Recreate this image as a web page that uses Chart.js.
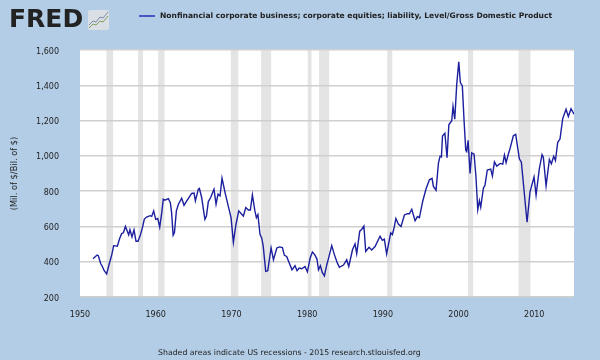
<!DOCTYPE html>
<html>
<head>
<meta charset="utf-8">
<script src="https://cdn.jsdelivr.net/npm/chart.js@4"></script>
<style>
  html, body { margin: 0; padding: 0; background: #b3cde6; }
  #wrap { position: relative; width: 600px; height: 360px; overflow: hidden; font-family: "DejaVu Sans", sans-serif; color: #222; }
  #gdpChart { position: absolute; left: 0; top: 0; }
  .txt { position: absolute; white-space: nowrap; }
  #logo { left: 9px; top: 4px; font-size: 25px; font-weight: bold; line-height: 30px; color: #222; }
  #icon { position: absolute; left: 88px; top: 10px; }
  #swatch { position: absolute; left: 139px; top: 15px; width: 16px; height: 2px; background: #4656bd; }
  #legend { left: 160px; top: 10px; font-size: 7.57px; font-weight: bold; line-height: 12px; }
  #footer { left: 158px; top: 347px; font-size: 7.8px; line-height: 12px; }
</style>
</head>
<body>
<div id="wrap">
  <canvas id="gdpChart" width="600" height="360"></canvas>
  <div class="txt" id="logo">FRED</div>
  <svg id="icon" width="21" height="20" viewBox="0 0 21 20">
    <rect width="21" height="20" rx="2" fill="#d9dfe4"/>
    <polyline points="1,15 5,11 8,12 12,7 15,8 20,2" fill="none" stroke="#7d8ca6" stroke-width="1"/>
    <polyline points="1,18 5,14 8,15 12,11 15,12 20,6" fill="none" stroke="#7fa060" stroke-width="1"/>
  </svg>
  <div id="swatch"></div>
  <div class="txt" id="legend">Nonfinancial corporate business; corporate equities; liability, Level/Gross Domestic Product</div>
  <div class="txt" id="footer">Shaded areas indicate US recessions - 2015 research.stlouisfed.org</div>
</div>
<script>
// values, year of each vertex and its value
const years = [
  1951.72, 1952.25, 1952.42, 1952.73, 1952.95, 1953.2, 1953.52, 1953.83, 1954.2, 1954.45, 1954.7, 1954.93,
  1955.24, 1955.5, 1955.73, 1956, 1956.25, 1956.43, 1956.6, 1956.87, 1957.13, 1957.4, 1957.66, 1957.93,
  1958.24, 1958.5, 1958.8, 1959.25, 1959.47, 1959.73, 1960, 1960.27, 1960.53, 1960.8, 1961, 1961.2, 1961.67,
  1961.93, 1962.1, 1962.3, 1962.47, 1962.73, 1963, 1963.43, 1963.74, 1964.1, 1964.75, 1965.06, 1965.24,
  1965.63, 1965.77, 1966.07, 1966.3, 1966.5, 1966.7, 1966.95, 1967.26, 1967.7, 1967.97, 1968.23, 1968.5,
  1968.76, 1969.16, 1969.6, 1969.95, 1970.26, 1970.6, 1970.97, 1971.36, 1971.58, 1971.9, 1972.24, 1972.5,
  1972.77, 1973.1, 1973.3, 1973.5, 1973.78, 1974, 1974.2, 1974.53, 1974.8, 1975.24, 1975.55, 1976, 1976.34,
  1976.73, 1977, 1977.3, 1978, 1978.4, 1978.67, 1978.95, 1979.3, 1979.72, 1980.03, 1980.4, 1980.7, 1981,
  1981.3, 1981.5, 1981.75, 1982, 1982.28, 1982.6, 1982.8, 1983.25, 1983.6, 1984, 1984.26, 1984.8, 1985.23,
  1985.5, 1986, 1986.33, 1986.55, 1986.95, 1987.2, 1987.5, 1987.74, 1988.18, 1988.53, 1988.97, 1989.63,
  1989.94, 1990.2, 1990.5, 1991.04, 1991.26, 1991.5, 1991.72, 1992.05, 1992.4, 1992.85, 1993.24, 1993.5,
  1993.82, 1994.26, 1994.57, 1994.83, 1995.27, 1995.7, 1996.15, 1996.5, 1996.68, 1997.03, 1997.34, 1997.56,
  1997.74, 1997.88, 1998.2, 1998.48, 1998.72, 1999.1, 1999.27, 1999.5, 1999.76, 2000.03, 2000.24, 2000.5,
  2000.73, 2000.95, 2001.08, 2001.26, 2001.52, 2001.74, 2002.05, 2002.3, 2002.54, 2002.76, 2002.93, 2003.28,
  2003.5, 2003.8, 2004.25, 2004.47, 2004.74, 2005.05, 2005.5, 2005.84, 2006.06, 2006.28, 2006.6, 2006.8,
  2007.24, 2007.55, 2008.03, 2008.3, 2008.65, 2009.05, 2009.44, 2009.97, 2010.24, 2010.67, 2011.03, 2011.2,
  2011.56, 2012, 2012.26, 2012.57, 2012.8, 2013.1, 2013.4, 2013.76, 2014.2, 2014.5, 2014.86, 2015.25
];
const ratio = [
  417, 438, 434, 390, 373, 349, 331, 383, 440, 491, 490, 488,
  531, 560, 564, 600, 573, 552, 581, 541, 581, 516, 516, 545,
  592, 642, 653, 661, 657, 688, 640, 645, 596, 678, 754, 749, 758,
  735, 678, 550, 564, 688, 726, 760, 720, 745, 787, 789, 745,
  811, 815, 764, 697, 640, 659, 741, 764, 811, 726, 783, 773,
  874, 792, 712, 650, 510, 611, 688, 669, 659, 707, 693, 693,
  779, 688, 650, 667, 554, 535, 488, 345, 349, 478, 411, 478, 484,
  480, 436, 430, 354, 377, 349, 364, 360, 373, 343, 421, 455, 440,
  415, 354, 377, 339, 320, 383, 415, 491, 440, 392, 368, 381, 411,
  373, 469, 501, 446, 573, 583, 602, 458, 482, 467, 486, 544,
  521, 528, 444, 563, 554, 595, 645, 613, 600, 665, 672, 672,
  697, 632, 656, 650, 743, 812, 864, 872, 827, 805, 957, 998,
  994, 1112, 1128, 989, 1176, 1199, 1280, 1208, 1405, 1533, 1415, 1396,
  1199, 1032, 1024, 1088, 900, 1017, 1009, 882, 695, 746, 710, 817,
  835, 920, 925, 886, 966, 942, 957, 953, 1004, 961, 1013, 1041,
  1114, 1122, 983, 964, 805, 624, 796, 880, 777, 927, 1007, 992,
  830, 979, 955, 998, 974, 1077, 1095, 1211, 1264, 1223, 1267, 1236
];
const recessionStart = [1953.5, 1957.67, 1960.33, 1969.92, 1973.92, 1980.08, 1981.58, 1990.58, 2001.25, 2007.92];
const recessionEnd = [1954.37, 1958.33, 1961.17, 1970.92, 1975.25, 1980.58, 1982.92, 1991.25, 2001.92, 2009.5];

// page colour, white plot and the grey recession bars under the grid
const backdrop = {
  id: 'backdrop',
  beforeDraw(chart) {
    const { ctx, chartArea: a, scales } = chart;
    ctx.save();
    ctx.fillStyle = '#b3cde6';
    ctx.fillRect(0, 0, chart.width, chart.height);
    ctx.fillStyle = '#ffffff';
    ctx.fillRect(a.left, a.top, a.right - a.left, a.bottom - a.top);
    ctx.fillStyle = '#e4e4e4';
    recessionStart.forEach((s, i) => {
      const x0 = scales.x.getPixelForValue(s);
      const x1 = scales.x.getPixelForValue(recessionEnd[i]);
      ctx.fillRect(x0, a.top, x1 - x0, a.bottom - a.top);
    });
    ctx.restore();
  }
};

new Chart(document.getElementById('gdpChart').getContext('2d'), {
  type: 'line',
  data: {
    datasets: [{
      data: years.map((y, i) => ({ x: y, y: ratio[i] })),
      borderColor: '#1c1f9e',
      borderWidth: 1.4,
      pointRadius: 0,
      tension: 0,
      fill: false
    }]
  },
  plugins: [backdrop],
  options: {
    responsive: false,
    animation: false,
    layout: { padding: { top: 50, right: 26, bottom: 0, left: 0 } },
    plugins: { legend: { display: false }, tooltip: { enabled: false } },
    scales: {
      x: {
        type: 'linear',
        min: 1950,
        max: 2015.25,
        afterFit(scale) { scale.height = 63; },
        grid: { display: false },
        border: { display: false },
        ticks: {
          stepSize: 10,
          includeBounds: false,
          maxRotation: 0,
          padding: 5,
          color: '#222',
          font: { family: 'DejaVu Sans', size: 8 },
          callback: v => String(v)
        }
      },
      y: {
        min: 200,
        max: 1600,
        afterFit(scale) { scale.width = 80; },
        grid: { color: '#cfcfcf', lineWidth: 1.4, drawTicks: false },
        border: { display: false },
        title: {
          display: true,
          text: '(Mil. of $/Bil. of $)',
          color: '#222',
          padding: { top: 10, bottom: 0 },
          font: { family: 'DejaVu Sans', size: 8.3 }
        },
        ticks: {
          stepSize: 200,
          padding: 21,
          labelOffset: 1.5,
          color: '#222',
          font: { family: 'DejaVu Sans', size: 8 },
          callback: v => v.toLocaleString('en-US')
        }
      }
    }
  }
});
</script>
</body>
</html>
